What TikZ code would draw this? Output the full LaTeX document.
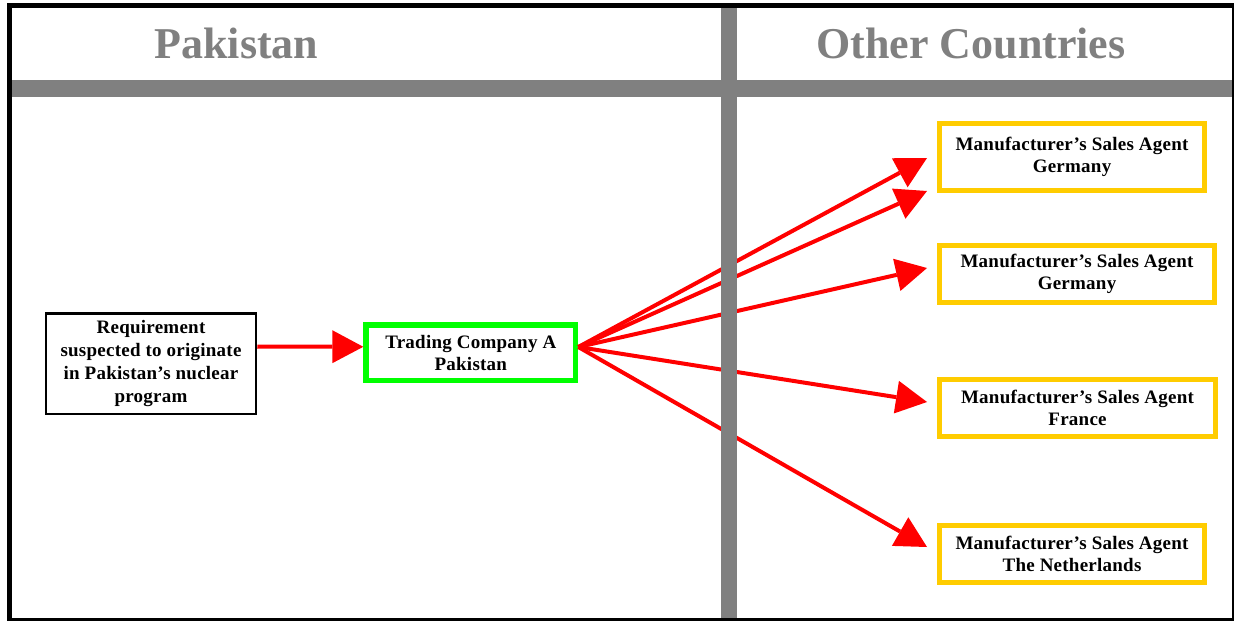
\documentclass[tikz,border=0pt]{standalone}
\usepackage{fontspec}
\setmainfont{Liberation Serif}
\newfontfamily\boxfont[LetterSpace=1.3]{Liberation Serif}
\usetikzlibrary{arrows.meta}
\definecolor{barGray}{HTML}{808080}
\definecolor{agentGold}{HTML}{FFCC00}
\definecolor{tradeGreen}{HTML}{00FF00}
\definecolor{flowRed}{HTML}{FF0000}

\tikzset{
  heading/.style={text=barGray, font=\fontsize{44pt}{50pt}\selectfont\bfseries, inner sep=0pt, anchor=base},
  boxtext/.style={font=\boxfont\fontsize{19pt}{22.5pt}\selectfont\bfseries, align=center, inner sep=0pt},
  reqbox/.style={boxtext, font=\boxfont\fontsize{19pt}{23.3pt}\selectfont\bfseries, draw=black, line width=2.5pt, fill=white, minimum width=210pt, minimum height=100.5pt},
  tradebox/.style={boxtext, draw=tradeGreen, line width=5.5pt, fill=white, minimum width=209.5pt, minimum height=55.5pt},
  agentbox/.style={boxtext, draw=agentGold, line width=5pt, fill=white, minimum height=57pt},
  flow/.style={draw=flowRed, line width=4pt, -{Triangle[length=31pt,width=33pt,line width=0pt]}},
  band/.style={fill=barGray},
  rim/.style={fill=black},
}

\begin{document}
\begin{tikzpicture}[x=1pt,y=-1pt]
  \useasboundingbox (0,0) rectangle (1236,621);
  \fill[white] (0,0) rectangle (1236,621);

  % boxes
  \node[reqbox] (req) at (151,363.5)
    {Requirement\\suspected to originate\\in Pakistan’s nuclear\\program};
  \node[tradebox] (trade) at (470.8,352.8) {Trading Company A\\Pakistan};
  \node[agentbox, minimum width=265pt, minimum height=67pt] (g1) at (1072,156.7)
    {Manufacturer’s Sales Agent\\Germany};
  \node[agentbox, minimum width=275pt] (g2) at (1077,274)
    {Manufacturer’s Sales Agent\\Germany};
  \node[agentbox, minimum width=276pt] (fr) at (1077.5,408)
    {Manufacturer’s Sales Agent\\France};
  \node[agentbox, minimum width=265pt] (nl) at (1072,554)
    {Manufacturer’s Sales Agent\\The Netherlands};

  % flows
  \coordinate (src) at ([yshift=5.8pt]trade.east);
  \draw[flow] ([yshift=17pt]req.east) -- ([yshift=6pt]trade.west);
  \draw[flow] (src) -- ([xshift=-10pt,yshift=-1.3pt]g1.west);
  \draw[flow] (src) -- ([xshift=-10pt,yshift=-34.3pt]g1.west);
  \draw[flow] (src) -- ([xshift=-10pt,yshift=6pt]g2.west);
  \draw[flow] (src) -- ([xshift=-10pt,yshift=6pt]fr.west);
  \draw[flow] (src) -- ([xshift=-10pt,yshift=7pt]nl.west);

  % column dividers
  \fill[band] (12,80) rectangle (1232,97);
  \fill[band] (721,8) rectangle (737,618.5);

  % outer frame
  \fill[rim] (7,3) rectangle (1233.5,8);
  \fill[rim] (7,3) rectangle (12,621);
  \fill[rim] (7,618.3) rectangle (1234,621);
  \fill[rim] (1232.3,3) rectangle (1233.8,621);

  % column headings
  \node[heading] (hdrL) at (236.5,58) {Pakistan};
  \node[heading] (hdrR) at (971,58) {Other Countries};
\end{tikzpicture}
\end{document}
